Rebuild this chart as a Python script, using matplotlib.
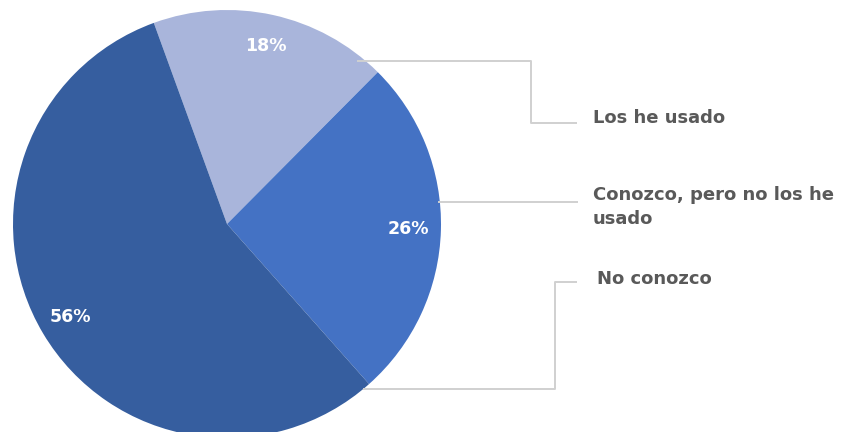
import matplotlib
matplotlib.use('Agg')
import matplotlib.pyplot as plt

# Data
labels = ['Los he usado', 'Conozco, pero no los he\nusado', 'No conozco']
values = [18, 26, 56]
colors = ['#A9B5DB', '#4472C4', '#365E9F']

plt.rcParams['font.family'] = ['DejaVu Sans']

fig = plt.figure(figsize=(8.48, 4.32), dpi=100)
ax = fig.add_axes([0, 0, 1, 1])

# Pie centered at (227, 208) in pixel-like data coords
wedges, texts, autotexts = ax.pie(
    values, colors=colors, startangle=110, counterclock=False,
    center=(227, 208), radius=214, autopct='%d%%', pctdistance=0.85,
    textprops=dict(color='white', fontsize=12.5, fontweight='bold'),
    wedgeprops=dict(linewidth=0))

ax.set_xlim(0, 848)
ax.set_ylim(0, 432)
ax.set_aspect('equal')
ax.axis('off')

# Leader lines (image y flipped)
line_kw = dict(color='#D0D0D0', linewidth=1.4, solid_capstyle='butt')
ax.plot([357, 531, 531, 577], [432 - 61, 432 - 61, 432 - 123, 432 - 123], **line_kw)
ax.plot([438, 578], [432 - 202, 432 - 202], **line_kw)
ax.plot([363, 555, 555, 577], [432 - 389, 432 - 389, 432 - 282, 432 - 282], **line_kw)

text_kw = dict(color='#595959', fontsize=13, fontweight='bold',
               ha='left', va='center', linespacing=1.4)
ax.text(593, 432 - 118, labels[0], **text_kw)
ax.text(593, 432 - 207, labels[1], **text_kw)
ax.text(597, 432 - 279, labels[2], **text_kw)

fig.savefig('out.png', dpi=100)
